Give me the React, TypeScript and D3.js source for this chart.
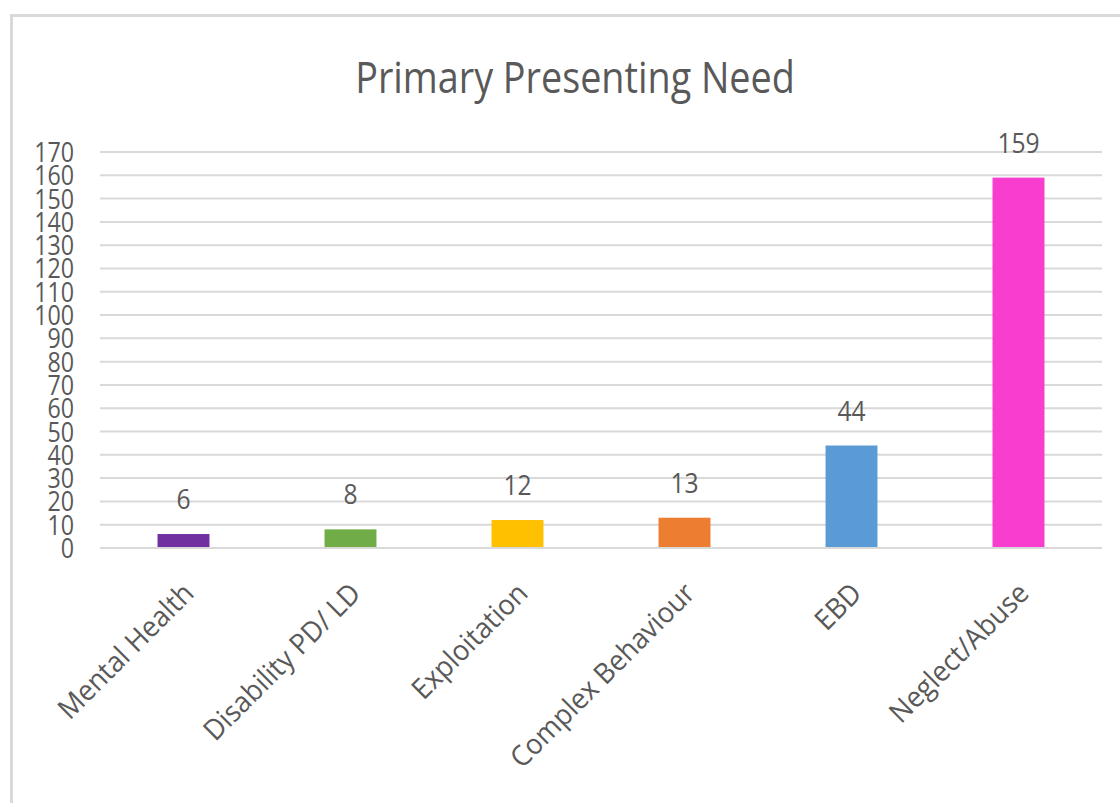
import React from "react";
import * as d3 from "d3";

const categories = ["Mental Health", "Disability PD/ LD", "Exploitation", "Complex Behaviour", "EBD", "Neglect/Abuse"];
const values = [6, 8, 12, 13, 44, 159];
const colors = ["#7030A0", "#70AD47", "#FFC000", "#ED7D31", "#5B9BD5", "#F93DCE"];
const yTicks = d3.range(0, 171, 10);
const title = "Primary Presenting Need";

const W = 1120;
const H = 803;
const FONT = "'Open Sans', 'Noto Sans', sans-serif";
const TEXT = "#595959";
const GRID = "#D9D9D9";

export default function App() {
  const x = d3
    .scaleBand<string>()
    .domain(categories)
    .range([100, 1102])
    .paddingInner(0.689)
    .paddingOuter(0.3445);
  const y = d3.scaleLinear().domain([0, 170]).range([548, 152]);

  return (
    <svg
      width={W}
      height={H}
      style={{ position: "absolute", left: 0, top: 0, background: "#fff" }}
      fontFamily={FONT}
    >
      <rect x={0} y={0} width={W} height={H} fill="#fff" />
      <rect x={11.5} y={15.5} width={W + 20} height={H + 20} fill="none" stroke={GRID} strokeWidth={3} />
      <text
        transform={`translate(575,93) scale(0.87,1)`}
        textAnchor="middle"
        fontSize={43.4}
        fill={TEXT}
      >
        {title}
      </text>
      {yTicks.map((t) => (
        <g key={t}>
          <line x1={100} x2={1102} y1={y(t)} y2={y(t)} stroke={GRID} strokeWidth={2} />
          <text
            transform={`translate(74,${y(t) + 10}) scale(0.83,1)`}
            textAnchor="end"
            fontSize={28}
            fill={TEXT}
          >
            {t}
          </text>
        </g>
      ))}
      {categories.map((c, i) => {
        const x0 = x(c)!;
        const cx = x0 + x.bandwidth() / 2;
        return (
          <g key={c}>
            <rect
              x={x0}
              y={y(values[i])}
              width={x.bandwidth()}
              height={y(0) - y(values[i]) - 1}
              fill={colors[i]}
            />
            <text
              transform={`translate(${cx},${y(values[i]) - 25}) scale(0.88,1)`}
              textAnchor="middle"
              fontSize={28}
              fill={TEXT}
            >
              {values[i]}
            </text>
            <text
              transform={`translate(${cx + 12},595) rotate(-45) scale(0.95,1)`}
              textAnchor="end"
              fontSize={28.5}
              fill={TEXT}
            >
              {c}
            </text>
          </g>
        );
      })}
    </svg>
  );
}
